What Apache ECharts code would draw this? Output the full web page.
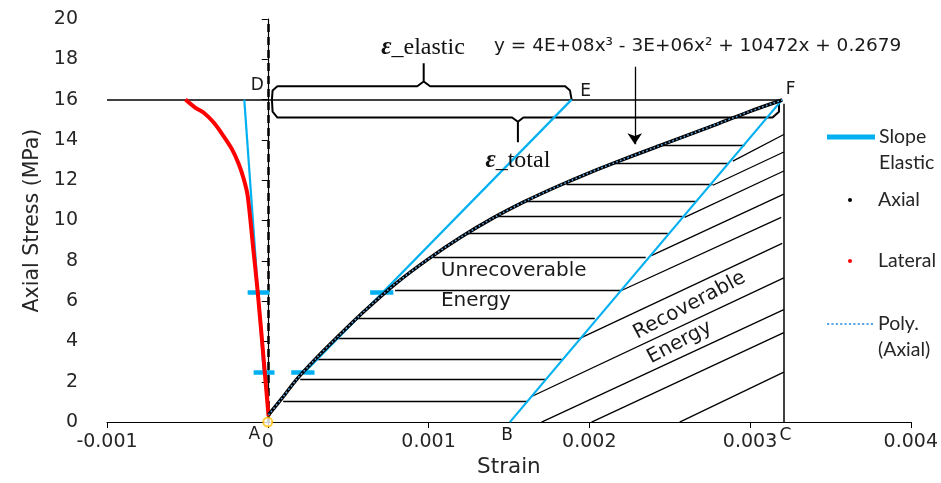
<!DOCTYPE html>
<html><head><meta charset="utf-8">
<script src="https://cdn.jsdelivr.net/npm/echarts/dist/echarts.min.js"></script>
<style>html,body{margin:0;padding:0;background:#fff}#c{width:941px;height:483px}</style>
</head><body><div id="c"></div>
<script>
// ---------------- data ----------------
const xTickValues = [-0.001, 0, 0.001, 0.002, 0.003, 0.004];
const axialStrain = [0.000005, 0.00009, 0.00018, 0.0003, 0.00043, 0.0006, 0.0008, 0.001, 0.0012, 0.0014, 0.0016, 0.0018, 0.002, 0.0022, 0.0024, 0.0026, 0.0028, 0.003, 0.0032];
const axialStress = [0.36, 1.2, 2.12, 3.16, 4.2, 5.5, 6.9, 8.1, 9.17, 10.12, 10.95, 11.69, 12.37, 13.0, 13.6, 14.2, 14.8, 15.42, 15.98];
const polyStrain = [0.000005, 0.00009, 0.00018, 0.0003, 0.00043, 0.0006, 0.0008, 0.001, 0.0012, 0.0014, 0.0016, 0.0018, 0.002, 0.0022, 0.0024, 0.0026, 0.0028, 0.003, 0.0032];
const polyStress = [0.36, 1.2, 2.12, 3.16, 4.2, 5.5, 6.9, 8.1, 9.17, 10.12, 10.95, 11.69, 12.37, 13.0, 13.6, 14.2, 14.8, 15.42, 15.98];
const lateralStrain = [0.000005, -0.0000186, -0.000062, -0.00009, -0.000125, -0.000149, -0.00018, -0.000222, -0.000275, -0.000335, -0.000398, -0.00045, -0.000512];
const lateralStress = [0.3, 2.47, 6.42, 8.59, 11.23, 12.05, 12.79, 13.53, 14.19, 14.85, 15.35, 15.59, 16.0];
// elastic slope segments
const slopeX1 = [-0.000146, 0.000226, 0.001506];
const slopeY1 = [16, 2.45, 0];
const slopeX2 = [-0.000025, 0.00189, 0.0032];
const slopeY2 = [2.45, 16, 16];
// 15% / 40% stress marks
const markY  = [6.43, 2.45, 2.45, 6.43];
const markX1 = [-0.000125, -0.000088, 0.000146, 0.000637];
const markX2 = [0.000011, 0.000042, 0.000291, 0.000781];
// unrecoverable energy hatching (horizontal)
const hatchHY  = [13.73, 12.84, 11.80, 10.96, 10.21, 9.37, 8.2, 6.52, 5.14, 4.15, 3.11, 2.12, 1.04];
const hatchHX1 = [0.002417, 0.002146, 0.001858, 0.0016, 0.001407, 0.001237, 0.00103, 0.000792, 0.000562, 0.00043, 0.000306, 0.000202, 0.000096];
const hatchHX2 = [0.002966, 0.00286, 0.002767, 0.002661, 0.002579, 0.002488, 0.002351, 0.002202, 0.002034, 0.001941, 0.001829, 0.00173, 0.001612];
// recoverable energy hatching (diagonal)
const hatchDX1 = [0.002893, 0.002769, 0.002593, 0.002386, 0.0022, 0.001941, 0.001641, 0.001703, 0.002014, 0.002562];
const hatchDY1 = [12.95, 11.75, 10.16, 8.26, 6.53, 4.15, 1.27, 0, 0, 0];
const hatchDX2 = [0.00321, 0.00321, 0.00321, 0.00321, 0.003194, 0.0032, 0.00321, 0.00321, 0.00321, 0.00321];
const hatchDY2 = [14.27, 13.40, 12.46, 11.31, 10.16, 8.87, 7.16, 5.58, 4.44, 2.48];
// guide lines (D-F horizontal, C-F vertical)
const guideX1 = [-0.001, 0.00321];
const guideY1 = [16, 0];
const guideX2 = [0.0032, 0.00321];
const guideY2 = [16, 15.8];
const zeroLineX = [0, 0];
const zeroLineY = [0, 20];
// braces
const braceUpX = [0.000026, 0.00003, 0.00006, 0.00093, 0.00097, 0.00097, 0.00097, 0.00101, 0.00185, 0.00188, 0.00189];
const braceUpY = [16.0, 16.45, 16.66, 16.66, 16.9, 17.8, 16.9, 16.66, 16.66, 16.45, 16.0];
const braceLowX = [0.000026, 0.00003, 0.00006, 0.00152, 0.001556, 0.001556, 0.001556, 0.00159, 0.00314, 0.00318, 0.00318];
const braceLowY = [16.0, 15.4, 15.11, 15.11, 14.9, 13.88, 14.9, 15.11, 15.11, 15.4, 15.9];
// arrow to the trend line
const arrowX = [0.002283, 0.002283];
const arrowY = [17.63, 13.78];
const originPoint = [0, 0];
// point letters
const letterText = ['A', 'B', 'C', 'D', 'E', 'F'];
const letterX = [-0.000084, 0.001488, 0.00322, -0.000065, 0.001978, 0.003252];
const letterY = [-0.62, -0.66, -0.66, 16.69, 16.42, 16.49];

// ---------------- chart ----------------
const BLUE = '#00B0F0';
const TXT = '#262626';
const NOTE = '#1a1a1a';
const SANS = 'DejaVu Sans';
const zip = (xs, ys) => xs.map((x, i) => [x, ys[i]]);
const segs = (x1, y1, x2, y2) => x1.map((x, i) => ({ coords: [[x, y1[i]], [x2[i], y2[i]]] }));

const noteLabel = (text, size, extra) => Object.assign({ show: true, formatter: text, fontSize: size, fontFamily: SANS, color: NOTE, opacity: 1, textBorderWidth: 0 }, extra || {});
const notes = letterText.map((t, i) => ({ value: [letterX[i], letterY[i]], label: noteLabel(t, 17) }));
const epsRich = { e: { fontFamily: 'Liberation Serif', fontWeight: 'bold', fontStyle: 'italic', fontSize: 25, color: '#111' }, t: { fontFamily: 'Liberation Serif', fontSize: 24, color: '#111' } };
notes.push(
  { value: [0.000966, 18.57], label: noteLabel('{e|ε}{t|_elastic}', 24, { rich: epsRich }) },
  { value: [0.001556, 12.99], label: noteLabel('{e|ε}{t|_total}', 24, { rich: epsRich }) },
  { value: [0.002674, 18.63], label: noteLabel('y = 4E+08x³ - 3E+06x² + 10472x + 0.2679', 18.5) },
  { value: [0.00153, 7.51], label: noteLabel('Unrecoverable', 20) },
  { value: [0.001295, 6.02], label: noteLabel('Energy', 20) },
  { value: [0.002624, 5.79], label: noteLabel('Recoverable', 20, { rotate: 27.9 }) },
  { value: [0.002562, 3.95], label: noteLabel('Energy', 20, { rotate: 27.9 }) }
);

const legendText = { color: TXT, fontFamily: 'Lato', fontSize: 19.5, lineHeight: 26 };
const dotPath = 'path://' + Array.from({ length: 11 }, (_, k) => 'M' + (k * 4) + ' 0h2v2h-2z').join(' ');

const option = {
  animation: false,
  backgroundColor: '#fff',
  grid: { left: 107, right: 30, top: 19, bottom: 59, containLabel: false },
  xAxis: {
    type: 'value', min: -0.001, max: 0.004, interval: 0.001,
    name: 'Strain', nameLocation: 'middle', nameGap: 31,
    nameTextStyle: { fontFamily: SANS, fontSize: 21.5, color: TXT },
    axisLine: { lineStyle: { color: '#000', width: 1.2 } },
    axisTick: { show: true, inside: false, length: 6, lineStyle: { color: '#000' } },
    axisLabel: { margin: 10, fontFamily: SANS, fontSize: 19, color: TXT,
      formatter: v => { const t = xTickValues.find(u => Math.abs(u - v) < 1e-9); const w = t === undefined ? v : t; return w === 0 ? '0' : w.toFixed(3); } },
    splitLine: { show: false }
  },
  yAxis: {
    type: 'value', min: 0, max: 20, interval: 2,
    name: 'Axial Stress (MPa)', nameLocation: 'middle', nameGap: 64,
    nameTextStyle: { fontFamily: SANS, fontSize: 20.5, color: TXT },
    axisLine: { show: true, lineStyle: { color: '#000', width: 1.2 } },
    axisTick: { show: true, inside: false, length: 6, lineStyle: { color: '#000' } },
    axisLabel: { margin: 29, fontFamily: SANS, fontSize: 19, color: TXT },
    splitLine: { show: false }
  },
  legend: [
    { left: 827, top: 98, padding: 0, orient: 'vertical', selectedMode: false, itemWidth: 46, itemHeight: 3,
      data: [{ name: 'Slope Elastic', icon: 'rect', itemStyle: { color: BLUE } }],
      formatter: () => ' \nSlope\nElastic', textStyle: legendText },
    { left: 848, top: 187, padding: 0, orient: 'vertical', selectedMode: false, itemWidth: 46, itemHeight: 4,
      data: [{ name: 'Axial', icon: 'circle', itemStyle: { color: '#000' } }], textStyle: legendText },
    { left: 848, top: 248, padding: 0, orient: 'vertical', selectedMode: false, itemWidth: 46, itemHeight: 4,
      data: [{ name: 'Lateral', icon: 'circle', itemStyle: { color: '#FF0000' } }], textStyle: legendText },
    { left: 827, top: 285, padding: 0, orient: 'vertical', selectedMode: false, itemWidth: 46, itemHeight: 2.2,
      data: [{ name: 'Poly. (Axial)', icon: dotPath, itemStyle: { color: '#5AA6E6' } }],
      formatter: () => ' \nPoly.\n(Axial)', textStyle: legendText }
  ],
  series: [
    { type: 'lines', coordinateSystem: 'cartesian2d', silent: true, z: 2,
      lineStyle: { color: '#000', width: 1.3, opacity: 1 }, data: segs(hatchHX1, hatchHY, hatchHX2, hatchHY) },
    { type: 'lines', coordinateSystem: 'cartesian2d', silent: true, z: 2,
      lineStyle: { color: '#000', width: 1.3, opacity: 1 }, data: segs(hatchDX1, hatchDY1, hatchDX2, hatchDY2) },
    { type: 'lines', coordinateSystem: 'cartesian2d', silent: true, z: 2,
      lineStyle: { color: '#000', width: 1.5, opacity: 1 }, data: segs(guideX1, guideY1, guideX2, guideY2) },
    { type: 'lines', coordinateSystem: 'cartesian2d', silent: true, z: 2,
      lineStyle: { color: '#000', width: 2.5, opacity: 1, type: [8, 5] }, data: segs([zeroLineX[0]], [zeroLineY[0]], [zeroLineX[1]], [zeroLineY[1]]) },
    { type: 'line', silent: true, z: 3, symbol: 'none', data: zip(braceUpX, braceUpY), lineStyle: { color: '#000', width: 2 } },
    { type: 'line', silent: true, z: 3, symbol: 'none', data: zip(braceLowX, braceLowY), lineStyle: { color: '#000', width: 2 } },
    { type: 'lines', coordinateSystem: 'cartesian2d', silent: true, z: 3, symbol: ['none', 'arrow'], symbolSize: [9, 11],
      lineStyle: { color: '#000', width: 1.3, opacity: 1 }, data: segs([arrowX[0]], [arrowY[0]], [arrowX[1]], [arrowY[1]]) },
    { name: 'Slope Elastic', type: 'lines', coordinateSystem: 'cartesian2d', silent: true, z: 4,
      lineStyle: { color: BLUE, width: 2.2, opacity: 1 }, data: segs(slopeX1, slopeY1, slopeX2, slopeY2) },
    { type: 'lines', coordinateSystem: 'cartesian2d', silent: true, z: 4,
      lineStyle: { color: BLUE, width: 4.5, opacity: 1 }, data: segs(markX1, markY, markX2, markY) },
    { name: 'Lateral', type: 'line', smooth: 0.3, symbol: 'none', z: 5, data: zip(lateralStrain, lateralStress),
      lineStyle: { color: '#FF0000', width: 4 }, itemStyle: { color: '#FF0000' } },
    { name: 'Axial', type: 'line', smooth: 0.3, symbol: 'none', z: 6, data: zip(axialStrain, axialStress),
      lineStyle: { color: '#000', width: 3.5 }, itemStyle: { color: '#000' } },
    { name: 'Poly. (Axial)', type: 'line', smooth: 0.3, symbol: 'none', z: 7, data: zip(polyStrain, polyStress),
      lineStyle: { color: '#5AA6E6', width: 1.6, type: [1.6, 2.4] }, itemStyle: { color: '#5AA6E6' } },
    { type: 'scatter', silent: true, z: 9, clip: false, symbol: 'emptyCircle', symbolSize: 9,
      itemStyle: { color: '#FFC000', borderColor: '#FFC000', borderWidth: 2 }, data: [originPoint] },
    { type: 'scatter', silent: true, z: 10, clip: false, symbolSize: 0, itemStyle: { color: '#000', opacity: 1 },
      label: { show: true, position: 'inside' }, data: notes }
  ]
};
const chart = echarts.init(document.getElementById('c'));
chart.setOption(option);
</script></body></html>
